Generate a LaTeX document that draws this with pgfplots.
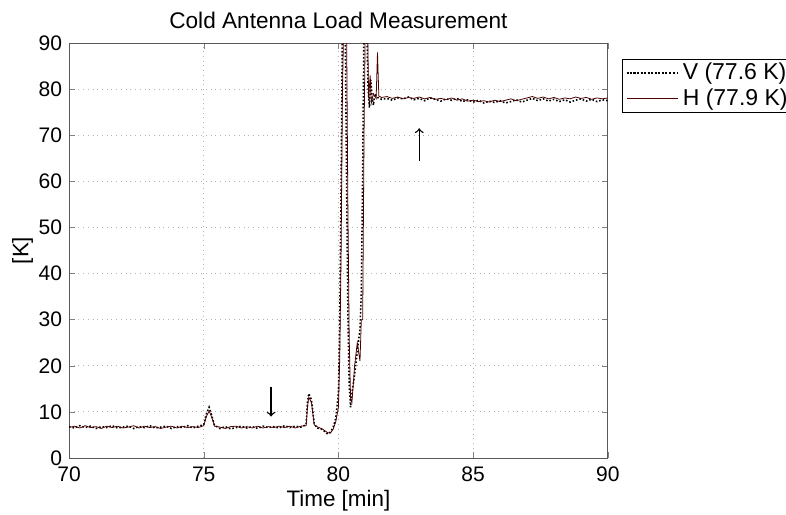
\documentclass[border=0pt]{standalone}
\usepackage{pgfplots}
\pgfplotsset{compat=1.18}
\usepackage{fontspec}
\setmainfont{Liberation Sans}

\pgfplotstableread{
t K
70.0 6.8
70.2 6.5
70.4 7.0
70.6 6.6
70.8 6.9
71.0 6.4
71.2 6.8
71.4 6.6
71.6 7.0
71.8 6.5
72.0 6.7
72.2 6.9
72.4 6.4
72.6 6.8
72.8 6.6
73.0 7.0
73.2 6.5
73.4 6.7
73.6 6.9
73.8 6.4
74.0 6.8
74.2 6.6
74.4 7.0
74.6 6.5
74.8 6.9
75.0 7.2
75.1 9.6
75.2 11.0
75.3 9.2
75.4 7.1
75.6 6.4
75.8 6.8
76.0 6.3
76.2 6.6
76.4 6.9
76.6 6.5
76.8 6.8
77.0 6.4
77.2 6.9
77.4 6.6
77.6 6.8
77.8 6.5
78.0 7.0
78.2 6.6
78.4 6.9
78.6 6.7
78.8 7.2
78.85 12.0
78.9 14.0
79.0 12.6
79.1 7.6
79.2 6.5
79.4 6.2
79.6 5.2
79.7 5.6
79.8 6.6
79.9 8.6
80.0 14.0
80.05 30.0
80.1 60.0
80.15 95.0
80.25 95.0
80.3 62.0
80.35 32.0
80.4 16.0
80.45 11.0
80.5 14.0
80.6 18.0
80.7 23.0
80.8 28.0
80.85 36.0
80.9 62.0
80.95 95.0
81.05 95.0
81.1 80.0
81.15 76.0
81.2 82.0
81.25 78.0
81.3 76.5
81.35 79.0
81.45 78.2
81.6 77.8
81.8 78.0
82.0 77.6
82.2 78.1
82.4 77.9
82.6 78.3
82.8 77.7
83.0 78.0
83.2 77.5
83.4 78.1
83.6 77.8
83.8 77.4
84.0 77.9
84.2 77.6
84.4 78.0
84.6 77.3
84.8 77.7
85.0 77.2
85.2 77.6
85.4 77.0
85.6 77.4
85.8 77.1
86.0 77.5
86.2 77.0
86.4 77.3
86.6 77.7
86.8 77.2
87.0 77.6
87.2 78.0
87.4 77.5
87.6 77.9
87.8 77.4
88.0 77.8
88.2 77.3
88.4 77.7
88.6 77.2
88.8 77.6
89.0 77.9
89.2 77.4
89.4 77.8
89.6 77.3
89.8 77.7
90.0 77.5
}\Vdata

\pgfplotstableread{
t K
70.0 6.6
70.2 6.9
70.4 6.5
70.6 7.0
70.8 6.6
71.0 6.8
71.2 6.4
71.4 6.9
71.6 6.6
71.8 6.9
72.0 6.5
72.2 6.7
72.4 7.0
72.6 6.5
72.8 6.9
73.0 6.6
73.2 6.8
73.4 6.4
73.6 6.7
73.8 6.9
74.0 6.5
74.2 6.9
74.4 6.6
74.6 6.8
74.8 6.6
75.0 7.0
75.1 9.0
75.2 10.2
75.3 8.8
75.4 6.9
75.6 6.7
75.8 6.4
76.0 6.8
76.2 6.9
76.4 6.5
76.6 6.8
76.8 6.5
77.0 6.9
77.2 6.5
77.4 6.8
77.6 6.6
77.8 6.9
78.0 6.6
78.2 6.9
78.4 6.5
78.6 6.9
78.8 7.0
78.85 11.0
78.9 13.2
79.0 12.0
79.1 7.2
79.2 6.8
79.4 6.3
79.6 5.5
79.7 5.4
79.8 6.2
79.9 7.8
80.0 11.0
80.05 22.0
80.1 45.0
80.15 80.0
80.2 95.0
80.3 95.0
80.35 55.0
80.4 26.0
80.45 13.0
80.5 12.0
80.6 20.0
80.7 25.0
80.8 21.0
80.85 30.0
80.9 30.0
80.95 70.0
81.0 95.0
81.08 95.0
81.12 78.0
81.18 83.0
81.22 77.0
81.3 79.0
81.4 78.0
81.45 88.0
81.5 78.5
81.6 78.2
81.8 78.4
82.0 78.0
82.2 78.3
82.4 77.9
82.6 78.2
82.8 78.0
83.0 78.3
83.2 77.9
83.4 78.2
83.6 77.8
83.8 78.0
84.0 77.7
84.2 78.1
84.4 77.6
84.6 77.9
84.8 77.4
85.0 77.6
85.2 77.3
85.4 77.5
85.6 77.2
85.8 77.6
86.0 77.3
86.2 77.6
86.4 77.9
86.6 77.5
86.8 77.8
87.0 78.1
87.2 78.4
87.4 78.0
87.6 78.3
87.8 77.9
88.0 78.2
88.2 77.8
88.4 78.1
88.6 77.9
88.8 78.3
89.0 78.0
89.2 78.2
89.4 77.8
89.6 78.1
89.8 77.9
90.0 78.1
}\Hdata

\begin{document}
\begin{tikzpicture}
\begin{axis}[
    scale only axis,
    width=274pt,
    height=211pt,
    xmin=70, xmax=90,
    ymin=0, ymax=90,
    xtick={70,75,80,85,90},
    ytick={0,10,...,90},
    tick align=inside,
    major tick length=3pt,
    grid=major,
    major grid style={dotted, gray!60},
    axis line style={gray!70!black},
    title={Cold Antenna Load Measurement},
    title style={font=\fontsize{11.5}{13}\selectfont, yshift=-2pt},
    xlabel={Time [min]},
    ylabel={[K]},
    xlabel style={yshift=2.5pt},
    ylabel style={yshift=-4pt},
    tick label style={font=\fontsize{10.7}{12}\selectfont},
    xticklabel style={yshift=-1pt},
    label style={font=\fontsize{11.4}{13}\selectfont},
    /pgf/number format/assume math mode=true,
    legend style={at={(rel axis cs:1.026,0.962)}, anchor=north west,
        font=\fontsize{11.7}{13}\selectfont, draw=black, inner xsep=2pt,
        inner ysep=0pt, row sep=-1pt, cells={anchor=west}},
    legend cell align=left,
    legend image code/.code={\draw[#1] (1.5pt,0pt) -- (23pt,0pt);
        \path (0pt,0pt) -- (26pt,0pt);},
]
\addplot[black, densely dotted, line width=0.8pt] table[x=t, y=K] {\Vdata};
\addlegendentry{V (77.6 K)}
\addplot[black!70!red, line width=0.4pt] table[x=t, y=K] {\Hdata};
\addlegendentry{H (77.9 K)}
\draw[->, line width=0.7pt] (axis cs:77.5,15.5) -- (axis cs:77.5,9);
\draw[->, line width=0.7pt] (axis cs:83,64.5) -- (axis cs:83,71.5);
\coordinate (bl) at (rel axis cs:0,0);
\coordinate (tr) at (rel axis cs:1,1);
\end{axis}
\pgfresetboundingbox
\path ([xshift=-35.1pt,yshift=-28.5pt]bl) rectangle ([xshift=90.6pt,yshift=21.9pt]tr);
\end{tikzpicture}
\end{document}
